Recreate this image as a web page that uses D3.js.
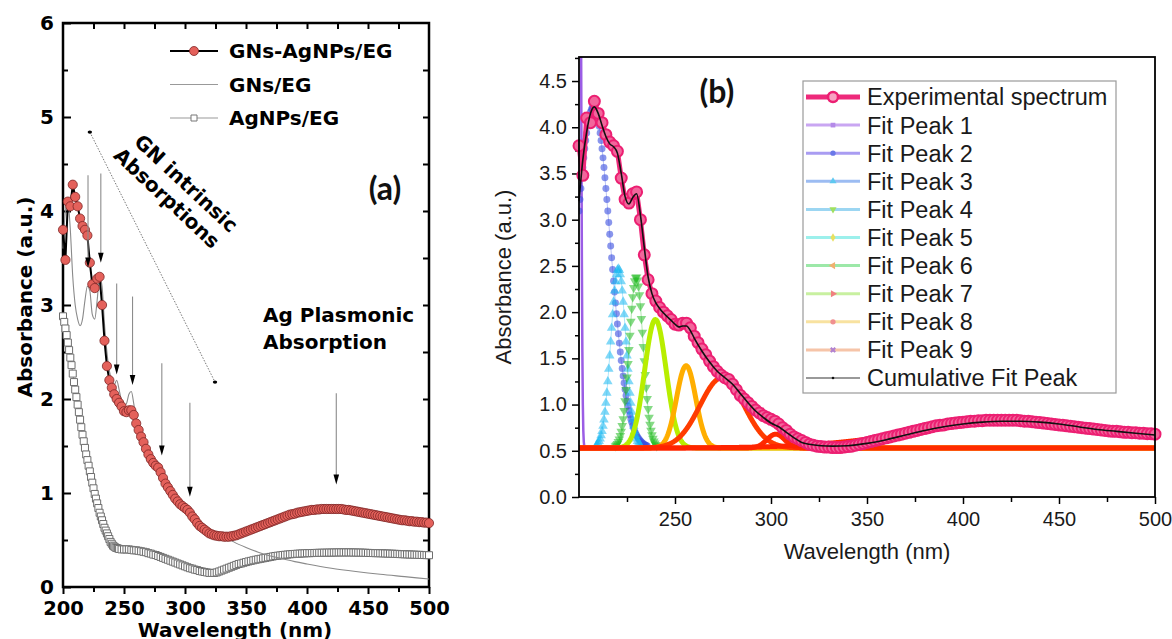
<!DOCTYPE html>
<html>
<head>
<meta charset="utf-8">
<script src="https://cdn.jsdelivr.net/npm/d3@7"></script>
<style>
  body { margin: 0; background: #fff; }
  svg { display: block; }
</style>
</head>
<body>
<svg id="chart" width="1172" height="639"></svg>
<script>
// ---------- Data ----------
// GNs-AgNPs/EG absorbance (also the experimental spectrum of panel b), 2 nm steps
const expWavelength = d3.range(200, 501, 2);
const expAbsorbance = [
  3.80, 3.48, 4.10, 4.05, 4.28, 4.15, 4.05, 3.92, 3.84, 3.80,
  3.74, 3.45, 3.22, 3.18, 3.28, 3.30, 3.00, 2.62, 2.35, 2.20,
  2.12, 2.05, 2.00, 1.96, 1.92, 1.87, 1.86, 1.88, 1.88, 1.83,
  1.74, 1.67, 1.60, 1.54, 1.47, 1.41, 1.36, 1.32, 1.29, 1.27,
  1.22, 1.16, 1.10, 1.06, 1.02, 0.98, 0.94, 0.91, 0.88, 0.86,
  0.84, 0.82, 0.79, 0.75, 0.72, 0.68, 0.65, 0.63, 0.61, 0.59,
  0.57,
  0.56, 0.55, 0.545, 0.54, 0.54, 0.535, 0.535, 0.535, 0.54, 0.545,
  0.55, 0.56, 0.57, 0.58, 0.59, 0.60, 0.61, 0.62, 0.63, 0.64,
  0.65, 0.66, 0.67, 0.68, 0.69, 0.70, 0.71, 0.72, 0.73, 0.74,
  0.75, 0.76, 0.77, 0.775, 0.78, 0.79, 0.795, 0.80, 0.805, 0.81,
  0.815, 0.82, 0.82, 0.825, 0.825, 0.83, 0.83, 0.83, 0.83, 0.83,
  0.83, 0.83, 0.83, 0.83, 0.825, 0.82, 0.82, 0.815, 0.81, 0.805,
  0.80, 0.795, 0.79, 0.785, 0.78, 0.775, 0.77, 0.765, 0.76, 0.755,
  0.75, 0.745, 0.74, 0.735, 0.73, 0.725, 0.72, 0.715, 0.71, 0.71,
  0.705, 0.70, 0.70, 0.695, 0.695, 0.69, 0.69, 0.685, 0.685, 0.68
];

// GNs/EG absorbance
const gnsWavelength = [200, 202, 204, 206, 208, 210, 212, 214, 216, 218, 220, 222, 224, 226, 228,
  230, 232, 234, 236, 238, 240, 242, 244, 246, 248, 250, 252, 254, 256, 258, 260,
  264, 268, 272, 276, 280, 286, 290, 296, 300, 306, 310, 316, 320, 326, 330, 336, 340,
  350, 360, 370, 380, 390, 400, 420, 440, 460, 480, 500];
const gnsAbsorbance = [3.60, 4.00, 4.10, 3.80, 3.30, 3.00, 2.85, 2.78, 2.85, 3.05, 3.20, 3.15, 2.90, 2.85, 3.05,
  3.30, 3.20, 2.80, 2.50, 2.30, 2.20, 2.15, 2.20, 2.10, 1.98, 1.93, 1.95, 2.05, 2.08, 1.95, 1.78,
  1.60, 1.47, 1.36, 1.29, 1.22, 1.06, 0.98, 0.88, 0.84, 0.75, 0.68, 0.61, 0.57, 0.545, 0.53, 0.51, 0.48,
  0.42, 0.37, 0.33, 0.30, 0.27, 0.245, 0.20, 0.165, 0.135, 0.11, 0.085];

// AgNPs/EG absorbance: 1 nm steps to 246 nm, then 2 nm steps
const agWavelength = d3.range(200, 247, 1).concat(d3.range(248, 501, 2));
const agAbsorbance = [
  2.88, 2.82, 2.75, 2.68, 2.60, 2.52, 2.44, 2.36, 2.27, 2.18,
  2.10, 2.02, 1.94, 1.86, 1.78, 1.70, 1.62, 1.55, 1.48, 1.41,
  1.35, 1.29, 1.23, 1.17, 1.11, 1.05, 0.99, 0.94, 0.89, 0.84,
  0.79, 0.75, 0.71, 0.67, 0.63, 0.60, 0.57, 0.54, 0.51, 0.48,
  0.46, 0.44, 0.43, 0.42, 0.415, 0.41, 0.405,
  0.40, 0.40, 0.40, 0.40, 0.395, 0.39, 0.39, 0.385, 0.38, 0.375,
  0.37, 0.36, 0.355, 0.345, 0.34, 0.33, 0.32, 0.31, 0.30, 0.29,
  0.28, 0.27, 0.26, 0.25, 0.24, 0.23, 0.22, 0.21, 0.20, 0.195,
  0.185, 0.18, 0.17, 0.165, 0.16, 0.155, 0.15,
  0.15, 0.15, 0.155, 0.165, 0.175, 0.185, 0.195, 0.205, 0.215, 0.225,
  0.235, 0.245, 0.25, 0.258, 0.265, 0.272, 0.278, 0.284, 0.29, 0.295,
  0.30, 0.305, 0.31, 0.315, 0.32, 0.325, 0.33, 0.333, 0.336, 0.34,
  0.343, 0.345, 0.348, 0.35, 0.352, 0.354, 0.355, 0.357, 0.358, 0.36,
  0.36, 0.361, 0.362, 0.363, 0.364, 0.364, 0.365, 0.365, 0.366, 0.366,
  0.367, 0.367, 0.368, 0.368, 0.368, 0.368, 0.368, 0.368, 0.367, 0.367,
  0.366, 0.366, 0.365, 0.364, 0.363, 0.362, 0.361, 0.36, 0.36, 0.359,
  0.358, 0.357, 0.356, 0.355, 0.354, 0.353, 0.352, 0.35, 0.349, 0.348,
  0.347, 0.346, 0.345, 0.344, 0.343, 0.342, 0.341, 0.34, 0.339, 0.338
];

// Peak markers in panel (a): wavelength, arrow tail and arrow tip (absorbance units)
const arrowWavelength = [220.5, 231, 244, 257, 281, 304, 424];
const arrowTail = [4.38, 4.40, 3.23, 3.09, 2.38, 1.96, 2.06];
const arrowTip = [3.40, 3.45, 2.26, 2.15, 1.40, 0.96, 1.09];

// Gaussian fit of panel (b): centre (nm), top (a.u.), FWHM (nm)
const fitBaseline = 0.53;
const peakNames = ["Fit Peak 1", "Fit Peak 2", "Fit Peak 3", "Fit Peak 4", "Fit Peak 5",
  "Fit Peak 6", "Fit Peak 7", "Fit Peak 8", "Fit Peak 9"];
const peakCenters = [200.4, 207.5, 220.5, 229.8, 239.8, 255.8, 274.5, 302.5, 428];
const peakTops = [8.0, 4.22, 2.47, 2.38, 1.92, 1.42, 1.29, 0.68, 0.81];
const peakFwhm = [1.6, 20.7, 9.2, 8.5, 13.2, 11.8, 27, 10.8, 125];

// Cumulative fit curve
const cumWavelength = [200, 202, 204, 206, 208, 210, 212, 214, 216, 218, 220, 222, 224, 226, 228, 230,
  232, 234, 236, 238, 240, 242, 244, 246, 248, 250, 252, 254, 256, 258, 260,
  264, 268, 272, 276, 280, 284, 288, 292, 296, 300, 304, 308, 312, 316, 320,
  326, 332, 340, 350, 360, 370, 380, 390, 400, 410, 420, 430, 440, 450, 460, 470, 480, 490, 500];
const cumAbsorbance = [3.20, 3.65, 3.95, 4.15, 4.22, 4.15, 4.02, 3.90, 3.82, 3.79, 3.72, 3.50, 3.25, 3.17, 3.24, 3.28,
  3.05, 2.70, 2.38, 2.20, 2.10, 2.04, 1.99, 1.95, 1.91, 1.87, 1.84, 1.85, 1.85, 1.80, 1.72,
  1.58, 1.46, 1.36, 1.29, 1.22, 1.12, 1.02, 0.93, 0.86, 0.80, 0.76, 0.70, 0.64, 0.59, 0.57,
  0.555, 0.55, 0.555, 0.58, 0.62, 0.67, 0.72, 0.76, 0.79, 0.81, 0.82, 0.82, 0.81, 0.79, 0.76, 0.73, 0.71, 0.69, 0.67];

// Tick labels
const ticksA_x = [200, 250, 300, 350, 400, 450, 500];
const ticksA_y = [0, 1, 2, 3, 4, 5, 6];
const ticksB_x = [250, 300, 350, 400, 450, 500];
const ticksB_y = [0, 0.5, 1, 1.5, 2, 2.5, 3, 3.5, 4, 4.5];

// ---------- Drawing ----------
const svg = d3.select("#chart");
const defs = svg.append("defs");
const boldFont = "'DejaVu Sans', Verdana, sans-serif";
const plainFont = "'Liberation Sans', Arial, sans-serif";

function zip(xs, ys) { return xs.map((x, i) => [x, ys[i]]); }

// ===== Panel (a) =====
const ax = d3.scaleLinear().domain([200, 500]).range([63, 429]);
const ay = d3.scaleLinear().domain([0, 6]).range([587, 23]);
const gA = svg.append("g");

function styleAxis(g) {
  g.select(".domain").remove();
  g.selectAll(".tick line").attr("stroke", "#000").attr("stroke-width", 2);
  g.selectAll(".tick text").attr("font-family", boldFont).attr("font-size", 20)
    .attr("font-weight", "bold").attr("fill", "#000");
}
gA.append("g").attr("transform", `translate(0,${ay(0)})`)
  .call(d3.axisBottom(ax).tickValues(ticksA_x).tickSize(7).tickPadding(7).tickFormat(d3.format("d")))
  .call(styleAxis)
  .call(g => g.selectAll(".tick text").attr("font-size", 19.5));
gA.append("g").attr("transform", `translate(0,${ay(0)})`)
  .call(d3.axisBottom(ax).tickValues(d3.range(225, 500, 50)).tickSize(5).tickFormat(""))
  .call(styleAxis);
gA.append("g").attr("transform", `translate(0,${ay(6)})`)
  .call(d3.axisTop(ax).tickValues(d3.range(225, 500, 25)).tickSize(-6).tickFormat(""))
  .call(styleAxis);
gA.append("g").attr("transform", `translate(${ax(200)},0)`)
  .call(d3.axisLeft(ay).tickValues(ticksA_y).tickSize(-8).tickPadding(9).tickFormat(d3.format("d")))
  .call(styleAxis);
gA.append("g").attr("transform", `translate(${ax(200)},0)`)
  .call(d3.axisLeft(ay).tickValues(d3.range(0.5, 6, 1)).tickSize(-5).tickFormat(""))
  .call(styleAxis);
gA.append("g").attr("transform", `translate(${ax(500)},0)`)
  .call(d3.axisRight(ay).tickValues(d3.range(0.5, 6, 0.5)).tickSize(-6).tickFormat(""))
  .call(styleAxis);

gA.append("rect")
  .attr("x", ax(200)).attr("y", ay(6))
  .attr("width", ax(500) - ax(200)).attr("height", ay(0) - ay(6))
  .attr("fill", "none").attr("stroke", "#000").attr("stroke-width", 2.5);

// axis titles
gA.append("text")
  .attr("transform", `translate(25,${(ay(0) + ay(6)) / 2 - 8}) rotate(-90)`)
  .attr("text-anchor", "middle").attr("dy", "0.36em")
  .attr("font-family", boldFont).attr("font-weight", "bold").attr("font-size", 20)
  .text("Absorbance (a.u.)");
gA.append("text")
  .attr("x", 235).attr("y", 637)
  .attr("text-anchor", "middle")
  .attr("font-family", boldFont).attr("font-weight", "bold").attr("font-size", 20)
  .text("Wavelength (nm)");

const lineA = d3.line().x(d => ax(d[0])).y(d => ay(d[1]));

// AgNPs/EG squares
const agData = zip(agWavelength, agAbsorbance);
gA.append("path").datum(agData).attr("d", lineA)
  .attr("fill", "none").attr("stroke", "#888").attr("stroke-width", 1);
gA.append("g").selectAll("path").data(agData).join("path")
  .attr("transform", d => `translate(${ax(d[0])},${ay(d[1])})`)
  .attr("d", d3.symbol(d3.symbolSquare, 49))
  .attr("fill", "#fff").attr("stroke", "#6e6e6e").attr("stroke-width", 1);

// GNs/EG thin line
gA.append("path").datum(zip(gnsWavelength, gnsAbsorbance))
  .attr("d", d3.line().x(d => ax(d[0])).y(d => ay(d[1])).curve(d3.curveMonotoneX))
  .attr("fill", "none").attr("stroke", "#8a8a8a").attr("stroke-width", 1.1);

// GNs-AgNPs/EG line + circles
const expData = zip(expWavelength, expAbsorbance);
gA.append("path").datum(expData).attr("d", lineA)
  .attr("fill", "none").attr("stroke", "#000").attr("stroke-width", 2);
gA.append("g").selectAll("circle").data(expData).join("circle")
  .attr("cx", d => ax(d[0])).attr("cy", d => ay(d[1])).attr("r", 4.6)
  .attr("fill", "#e4615b").attr("stroke", "#7d2626").attr("stroke-width", 0.8);

// arrows pointing at absorption features
const arrows = gA.append("g");
arrowWavelength.forEach((w, i) => {
  const x = ax(w), y0 = ay(arrowTail[i]), y1 = ay(arrowTip[i]);
  arrows.append("line").attr("x1", x).attr("x2", x).attr("y1", y0).attr("y2", y1 - 8)
    .attr("stroke", "#8c8c8c").attr("stroke-width", 1.1);
  arrows.append("path")
    .attr("d", `M${x - 2.8},${y1 - 10}L${x + 2.8},${y1 - 10}L${x},${y1}Z`)
    .attr("fill", "#000");
});

// dotted guide for the GN annotation
const guide = [[222, 4.84], [324.6, 2.18]];
gA.append("line")
  .attr("x1", ax(guide[0][0])).attr("y1", ay(guide[0][1]))
  .attr("x2", ax(guide[1][0])).attr("y2", ay(guide[1][1]))
  .attr("stroke", "#777").attr("stroke-width", 1).attr("stroke-dasharray", "1.5,1.5");
guide.forEach(p => gA.append("ellipse").attr("cx", ax(p[0])).attr("cy", ay(p[1]))
  .attr("rx", 2.2).attr("ry", 1.6).attr("fill", "#000"));

// annotation texts
const ann = gA.append("g").attr("transform", "translate(178,192) rotate(43)")
  .attr("font-family", boldFont).attr("font-weight", "bold").attr("font-size", 20)
  .attr("text-anchor", "middle");
ann.append("text").attr("x", 0).attr("y", -5).text("GN intrinsic");
ann.append("text").attr("x", -4).attr("y", 19).text("Absorptions");

gA.append("text").attr("x", 263).attr("y", 322)
  .attr("font-family", boldFont).attr("font-weight", "bold").attr("font-size", 20)
  .text("Ag Plasmonic");
gA.append("text").attr("x", 263).attr("y", 349)
  .attr("font-family", boldFont).attr("font-weight", "bold").attr("font-size", 20)
  .text("Absorption");

gA.append("text").attr("x", 385).attr("y", 200).attr("text-anchor", "middle")
  .attr("font-family", "Lato, 'Open Sans', sans-serif").attr("font-weight", "bold").attr("font-size", 32)
  .attr("fill", "#111")
  .text("(a)");

// legend (a)
const legA = gA.append("g").attr("font-family", boldFont).attr("font-weight", "bold").attr("font-size", 20);
const legAItems = ["GNs-AgNPs/EG", "GNs/EG", "AgNPs/EG"];
legAItems.forEach((name, i) => {
  const y = 51 + i * 33.5;
  legA.append("line").attr("x1", 170).attr("x2", 218).attr("y1", y).attr("y2", y)
    .attr("stroke", i === 0 ? "#000" : "#999").attr("stroke-width", i === 0 ? 1.8 : 1);
  if (i === 0) legA.append("circle").attr("cx", 194).attr("cy", y).attr("r", 4.5)
    .attr("fill", "#e4615b").attr("stroke", "#7d2626").attr("stroke-width", 0.8);
  if (i === 2) legA.append("path").attr("transform", `translate(194,${y})`)
    .attr("d", d3.symbol(d3.symbolSquare, 36)).attr("fill", "#fff").attr("stroke", "#777");
  legA.append("text").attr("x", 229).attr("y", y).attr("dy", "0.36em").text(name);
});

// ===== Panel (b) =====
const bx = d3.scaleLinear().domain([200, 500]).range([579, 1155]);
const by = d3.scaleLinear().domain([0, 4.76]).range([497, 57]);
const gB = svg.append("g");

defs.append("clipPath").attr("id", "clipB").append("rect")
  .attr("x", bx(200)).attr("y", by(4.76))
  .attr("width", bx(500) - bx(200)).attr("height", by(0) - by(4.76));

function styleAxisB(g) {
  g.select(".domain").remove();
  g.selectAll(".tick line").attr("stroke", "#000").attr("stroke-width", 1.5);
  g.selectAll(".tick text").attr("font-family", plainFont).attr("font-size", 20).attr("fill", "#1a1a1a");
}
gB.append("g").attr("transform", `translate(0,${by(0)})`)
  .call(d3.axisBottom(bx).tickValues(ticksB_x).tickSize(7).tickPadding(8).tickFormat(d3.format("d")))
  .call(styleAxisB);
gB.append("g").attr("transform", `translate(0,${by(0)})`)
  .call(d3.axisBottom(bx).tickValues(d3.range(225, 500, 50)).tickSize(5).tickFormat(""))
  .call(styleAxisB);
gB.append("g").attr("transform", `translate(${bx(200)},0)`)
  .call(d3.axisLeft(by).tickValues(ticksB_y).tickSize(7).tickPadding(5).tickFormat(d3.format(".1f")))
  .call(styleAxisB);
gB.append("g").attr("transform", `translate(${bx(200)},0)`)
  .call(d3.axisLeft(by).tickValues(d3.range(0.25, 4.76, 0.5)).tickSize(4).tickFormat(""))
  .call(styleAxisB);

gB.append("text")
  .attr("transform", `translate(503,${(by(0) + by(4.76)) / 2}) rotate(-90)`)
  .attr("text-anchor", "middle").attr("dy", "0.36em")
  .attr("font-family", plainFont).attr("font-size", 22).attr("fill", "#1a1a1a")
  .text("Absorbance (a.u.)");
gB.append("text")
  .attr("x", (bx(200) + bx(500)) / 2).attr("y", 559).attr("text-anchor", "middle")
  .attr("font-family", plainFont).attr("font-size", 22).attr("fill", "#1a1a1a")
  .text("Wavelength (nm)");

// fitted Gaussian peaks
const peakLine = ["#9b5de5", "#3a4fe0", "#19b8f0", "#22bb22", "#b8ee00", "#ffae00", "#ff3c00", "#ff2a00", "#ff2400"];
const peakWidth = [2.5, 1, 1, 1, 5, 5, 5, 5, 5];
const peakAlpha = [1, 0.35, 0.35, 0.35, 1, 1, 1, 1, 1];
function peakValue(i, w) {
  const c = peakCenters[i], t = peakTops[i], f = peakFwhm[i];
  return fitBaseline + (t - fitBaseline) * Math.exp(-4 * Math.LN2 * (w - c) * (w - c) / (f * f));
}
const lineB = d3.line().x(d => bx(d[0])).y(d => by(d[1]));
const peaksG = gB.append("g").attr("clip-path", "url(#clipB)");
const fineGrid = d3.range(200, 500.001, 0.25);
const markerGrid = d3.range(200, 500.001, 0.5);
peakNames.forEach((name, i) => {
  const pts = fineGrid.map(w => [w, peakValue(i, w)]);
  peaksG.append("path").datum(pts).attr("d", lineB)
    .attr("fill", "none").attr("stroke", peakLine[i]).attr("stroke-width", peakWidth[i])
    .attr("stroke-opacity", peakAlpha[i]).attr("stroke-linejoin", "round");
  if (i >= 1 && i <= 3) {
    const mpts = markerGrid.map(w => [w, peakValue(i, w)]).filter(d => d[1] > fitBaseline + 0.02);
    const sym = i === 1 ? d3.symbol(d3.symbolCircle, 38) : d3.symbol(d3.symbolTriangle, 40);
    peaksG.append("g").selectAll("path").data(mpts).join("path")
      .attr("transform", d => `translate(${bx(d[0])},${by(d[1])})` + (i === 3 ? " rotate(180)" : ""))
      .attr("d", sym).attr("fill", peakLine[i]).attr("fill-opacity", i === 1 ? 0.6 : 0.55);
  }
});

// experimental spectrum
gB.append("path").datum(expData).attr("d", lineB)
  .attr("fill", "none").attr("stroke", "#ee2a7b").attr("stroke-width", 5);
gB.append("g").selectAll("circle").data(expData).join("circle")
  .attr("cx", d => bx(d[0])).attr("cy", d => by(d[1])).attr("r", 5.5)
  .attr("fill", "#f2669c").attr("stroke", "#ec1f72").attr("stroke-width", 2);

// cumulative fit
gB.append("path").datum(zip(cumWavelength, cumAbsorbance))
  .attr("d", d3.line().x(d => bx(d[0])).y(d => by(d[1])).curve(d3.curveMonotoneX))
  .attr("fill", "none").attr("stroke", "#111").attr("stroke-width", 1.6);

// frame
gB.append("rect")
  .attr("x", bx(200)).attr("y", by(4.76))
  .attr("width", bx(500) - bx(200)).attr("height", by(0) - by(4.76))
  .attr("fill", "none").attr("stroke", "#000").attr("stroke-width", 1.8);

gB.append("text").attr("x", 717).attr("y", 103).attr("text-anchor", "middle")
  .attr("font-family", "Lato, 'Open Sans', sans-serif").attr("font-weight", "bold").attr("font-size", 32)
  .attr("fill", "#111")
  .text("(b)");

// legend (b)
const legB = gB.append("g");
legB.append("rect").attr("x", 803).attr("y", 81).attr("width", 313).attr("height", 312)
  .attr("fill", "#fff").attr("stroke", "#9a9a9a").attr("stroke-width", 1.2);
const legLineColors = ["#c9a6f2", "#a99cf2", "#9cbcf2", "#9cd6f2", "#9cf0ec", "#9ce8a8", "#c8f0a0", "#f8e2a0", "#f6c4a8"];
const legMarkColors = ["#b48ae8", "#6a78e8", "#5ec8f0", "#a0e060", "#e8e060", "#f0b070", "#f08080", "#f09090", "#b080d0"];
const legSymbols = [d3.symbolSquare, d3.symbolCircle, d3.symbolTriangle, d3.symbolTriangle, d3.symbolDiamond,
  d3.symbolTriangle, d3.symbolTriangle, d3.symbolCircle, d3.symbolCross];
const legRotate = [0, 0, 0, 180, 0, -90, 90, 0, 45];
const legendLabels = ["Experimental spectrum"].concat(peakNames, ["Cumulative Fit Peak"]);
legendLabels.forEach((name, k) => {
  const y = 97 + k * 28.1;
  if (k === 0) {
    legB.append("line").attr("x1", 806).attr("x2", 860).attr("y1", y).attr("y2", y)
      .attr("stroke", "#ee2a7b").attr("stroke-width", 5);
    legB.append("circle").attr("cx", 833).attr("cy", y).attr("r", 5)
      .attr("fill", "#f7a2c2").attr("stroke", "#ec1f72").attr("stroke-width", 2.5);
  } else if (k <= 9) {
    const i = k - 1;
    legB.append("line").attr("x1", 806).attr("x2", 860).attr("y1", y).attr("y2", y)
      .attr("stroke", legLineColors[i]).attr("stroke-width", 3);
    legB.append("path").attr("transform", `translate(833,${y}) rotate(${legRotate[i]})`)
      .attr("d", d3.symbol(legSymbols[i], 22)).attr("fill", legMarkColors[i]);
  } else {
    legB.append("line").attr("x1", 806).attr("x2", 860).attr("y1", y).attr("y2", y)
      .attr("stroke", "#999").attr("stroke-width", 2);
    legB.append("circle").attr("cx", 833).attr("cy", y).attr("r", 1.3).attr("fill", "#111");
  }
  legB.append("text").attr("x", 867).attr("y", y).attr("dy", "0.36em")
    .attr("font-family", plainFont).attr("font-size", 23.5).attr("fill", "#1a1a1a")
    .text(name);
});
</script>
</body>
</html>
